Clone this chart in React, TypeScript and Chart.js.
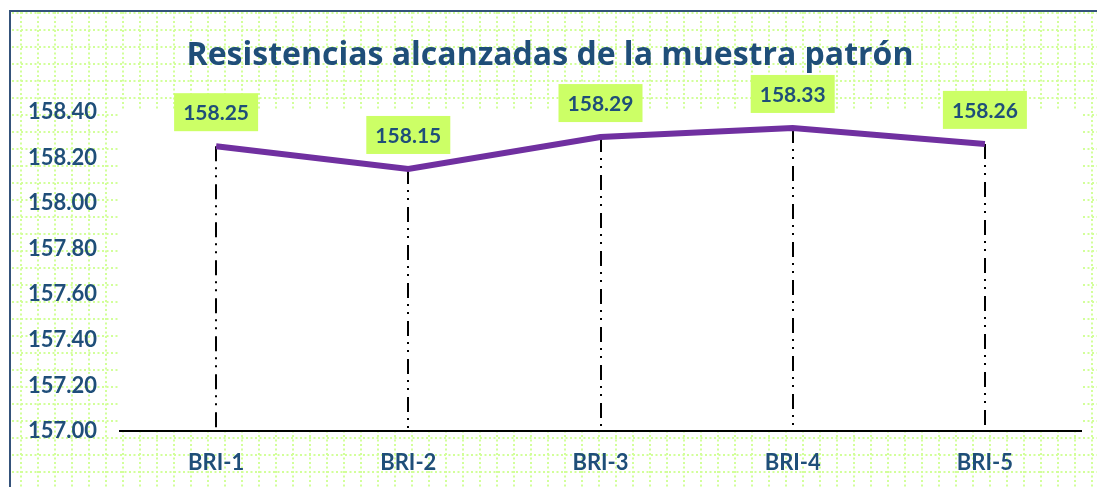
import React, { useEffect, useRef } from "react";
import { Chart, registerables } from "chart.js";

Chart.register(...registerables);

const categories = ["BRI-1", "BRI-2", "BRI-3", "BRI-4", "BRI-5"];
const resistencias = [158.25, 158.15, 158.29, 158.33, 158.26];
const yMin = 157.0;
const yMax = 158.4;
const yStep = 0.2;
const titleText = "Resistencias alcanzadas de la muestra patrón";

const FONT = "Lato, 'Open Sans', sans-serif";
const TITLE_FONT = "'Open Sans', Lato, sans-serif";
const BLUE = "#1f4e79";

const decorPlugin = {
  id: "decor",
  beforeDraw(chart: any) {
    const { ctx, width, height, chartArea } = chart;
    ctx.save();
    ctx.fillStyle = "#ffffff";
    ctx.fillRect(0, 0, width, height);
    // dotted green grid
    ctx.strokeStyle = "#d2ff99";
    ctx.lineWidth = 2;
    ctx.setLineDash([2, 2.5]);
    for (let x = 21; x < width; x += 17) {
      ctx.beginPath();
      ctx.moveTo(x, 12);
      ctx.lineTo(x, height);
      ctx.stroke();
    }
    for (let y = 13; y < height; y += 17) {
      ctx.beginPath();
      ctx.moveTo(12, y);
      ctx.lineTo(width, y);
      ctx.stroke();
    }
    ctx.setLineDash([]);
    // white plot area
    ctx.fillStyle = "#ffffff";
    ctx.fillRect(chartArea.left, chartArea.top - 2, chartArea.right - chartArea.left + 2, chartArea.bottom - chartArea.top + 2);
    // frame
    ctx.strokeStyle = "#34527a";
    ctx.lineWidth = 2;
    ctx.beginPath();
    ctx.moveTo(10, height);
    ctx.lineTo(10, 11);
    ctx.lineTo(width, 11);
    ctx.stroke();
    // title
    ctx.fillStyle = BLUE;
    ctx.font = `bold 32px ${TITLE_FONT}`;
    ctx.textAlign = "center";
    ctx.textBaseline = "alphabetic";
    ctx.fillText(titleText, 550, 65);
    ctx.restore();
  },
  beforeDatasetsDraw(chart: any) {
    const { ctx } = chart;
    const meta = chart.getDatasetMeta(0);
    const yScale = chart.scales.y;
    ctx.save();
    ctx.strokeStyle = "#000000";
    ctx.lineWidth = 2;
    ctx.setLineDash([15, 6, 2, 6, 2, 7]);
    meta.data.forEach((pt: any) => {
      ctx.beginPath();
      ctx.moveTo(Math.round(pt.x), pt.y);
      ctx.lineTo(Math.round(pt.x), yScale.bottom);
      ctx.stroke();
    });
    ctx.restore();
  },
  afterDatasetsDraw(chart: any) {
    const { ctx } = chart;
    const meta = chart.getDatasetMeta(0);
    ctx.save();
    ctx.font = `bold 21px ${FONT}`;
    ctx.textAlign = "center";
    ctx.textBaseline = "middle";
    meta.data.forEach((pt: any, i: number) => {
      const cx = pt.x;
      const cy = pt.y - 34;
      ctx.fillStyle = "#ccff66";
      ctx.fillRect(cx - 42, cy - 19, 84, 38);
      ctx.fillStyle = BLUE;
      ctx.fillText(resistencias[i].toFixed(2), cx, cy + 1);
    });
    ctx.restore();
  },
};

export default function App() {
  const ref = useRef<HTMLCanvasElement | null>(null);
  useEffect(() => {
    if (!ref.current) return;
    const chart = new Chart(ref.current, {
      type: "line",
      data: {
        labels: categories,
        datasets: [
          {
            data: resistencias,
            borderColor: "#7030a0",
            borderWidth: 6,
            pointRadius: 0,
            tension: 0,
            fill: false,
          },
        ],
      },
      options: {
        animation: false,
        responsive: false,
        maintainAspectRatio: false,
        layout: { padding: { left: 20, right: 16, top: 112, bottom: 0 } },
        plugins: { legend: { display: false }, title: { display: false }, tooltip: { enabled: false } },
        scales: {
          x: {
            offset: true,
            grid: { display: false, drawTicks: false },
            border: { display: true, color: "#000000", width: 2 },
            ticks: { color: BLUE, font: { family: FONT, size: 22, weight: "bold" }, padding: 19 },
            afterFit: (scale: any) => {
              scale.height = 56;
            },
          },
          y: {
            min: yMin,
            max: yMax,
            grid: { display: false, drawTicks: false },
            border: { display: false },
            ticks: {
              stepSize: yStep,
              color: BLUE,
              font: { family: FONT, size: 22, weight: "bold" },
              padding: 23,
              callback: (v: any) => Number(v).toFixed(2),
            },
            afterFit: (scale: any) => {
              scale.width = 100;
            },
          },
        },
      },
      plugins: [decorPlugin],
    });
    return () => chart.destroy();
  }, []);
  return (
    <div style={{ position: "absolute", left: 0, top: 0, width: 1097, height: 487 }}>
      <canvas ref={ref} width={1097} height={487} style={{ display: "block" }} />
    </div>
  );
}
